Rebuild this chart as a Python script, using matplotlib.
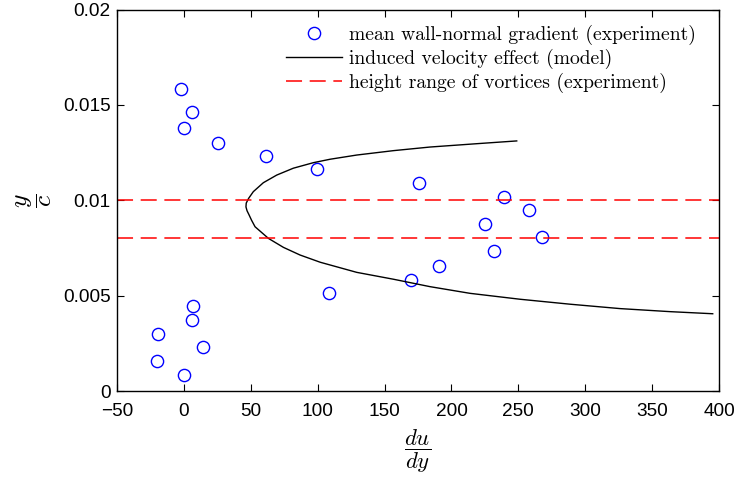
import matplotlib
matplotlib.use("Agg")
import matplotlib.pyplot as plt
from matplotlib.font_manager import FontProperties

plt.rcParams['mathtext.fontset'] = 'cm'
plt.rcParams['font.family'] = ['Liberation Sans', 'DejaVu Sans']
plt.rcParams['axes.unicode_minus'] = True

# experiment: mean wall-normal gradient
exp_x = [-2.3, 6.4, 0.0, 25.3, 61.4, 99.6, 175.6, 239.5, 258.2, 225.1, 267.5,
         232.1, 190.5, 169.6, 108.5, 6.6, 6.4, -19.3, 14.3, -19.8, 0.0]
exp_y = [0.01583, 0.01461, 0.01377, 0.01302, 0.01232, 0.01162, 0.01090, 0.01019,
         0.00947, 0.00875, 0.00806, 0.00732, 0.00657, 0.00584, 0.00512, 0.00444,
         0.00374, 0.00300, 0.00229, 0.00159, 0.00082]

# model: induced velocity effect
model_x = [248.8, 220.0, 184.0, 156.6, 129.2, 109.3, 96.8, 81.8, 69.4, 59.4, 51.9,
           48.4, 46.6, 46.4, 47.2, 48.6, 50.6, 53.2, 63.2, 74.4, 86.8, 101.9, 129.2,
           156.6, 184.0, 213.9, 251.3, 288.7, 326.0, 363.4, 395.3]
model_y = [0.01311, 0.01297, 0.01279, 0.01260, 0.01237, 0.01215, 0.01197, 0.01168,
           0.01132, 0.01092, 0.01045, 0.01010, 0.00985, 0.00965, 0.00945, 0.00925,
           0.00895, 0.00861, 0.00800, 0.00753, 0.00713, 0.00675, 0.00622, 0.00586,
           0.00547, 0.00512, 0.00481, 0.00455, 0.00432, 0.00416, 0.00405]

# height range of vortices
vortex_heights = [0.010, 0.008]

x_ticks = [-50, 0, 50, 100, 150, 200, 250, 300, 350, 400]
y_ticks = [0, 0.005, 0.01, 0.015, 0.02]
y_tick_labels = ['0', '0.005', '0.01', '0.015', '0.02']

fig = plt.figure(figsize=(7.36, 4.78), dpi=100)
ax = fig.add_axes([117/736, 1-391/478, 602/736, 381.5/478])

ax.plot(exp_x, exp_y, linestyle='none', marker='o', markersize=8.8,
        markerfacecolor='none', markeredgecolor='blue', markeredgewidth=1.0,
        label='mean wall-normal gradient (experiment)')
ax.plot(model_x, model_y, color='black', linewidth=1.0,
        label='induced velocity effect (model)')
for i, h in enumerate(vortex_heights):
    ax.axhline(h, color='red', linewidth=1.1, dashes=(10.5, 5),
               label='height range of vortices (experiment)' if i == 0 else None)

ax.set_xlim(-50, 400)
ax.set_ylim(0, 0.02)
ax.set_xticks(x_ticks)
ax.set_yticks(y_ticks)
ax.set_yticklabels(y_tick_labels)
ax.tick_params(direction='in', length=5, width=0.8, top=True, right=True,
               labelsize=13.7)
ax.tick_params(axis='x', pad=8.5)
ax.tick_params(axis='y', pad=4.5)
for s in ax.spines.values():
    s.set_linewidth(1.0)

ax.set_xlabel(r'$\dfrac{du}{dy}$', fontsize=16.5)
ax.set_ylabel(r'$\dfrac{y}{c}$', fontsize=18.5)
ax.xaxis.set_label_coords(0.5, -0.097)
ax.yaxis.set_label_coords(-0.104, 0.5)

leg = ax.legend(loc='upper left', bbox_to_anchor=(0.28, 0.959), frameon=False,
                prop=FontProperties(family='cmr10', size=14.1), handlelength=2.9,
                handletextpad=0.35, borderpad=0, borderaxespad=0, labelspacing=0.2)

fig.savefig('out.png', dpi=100)
